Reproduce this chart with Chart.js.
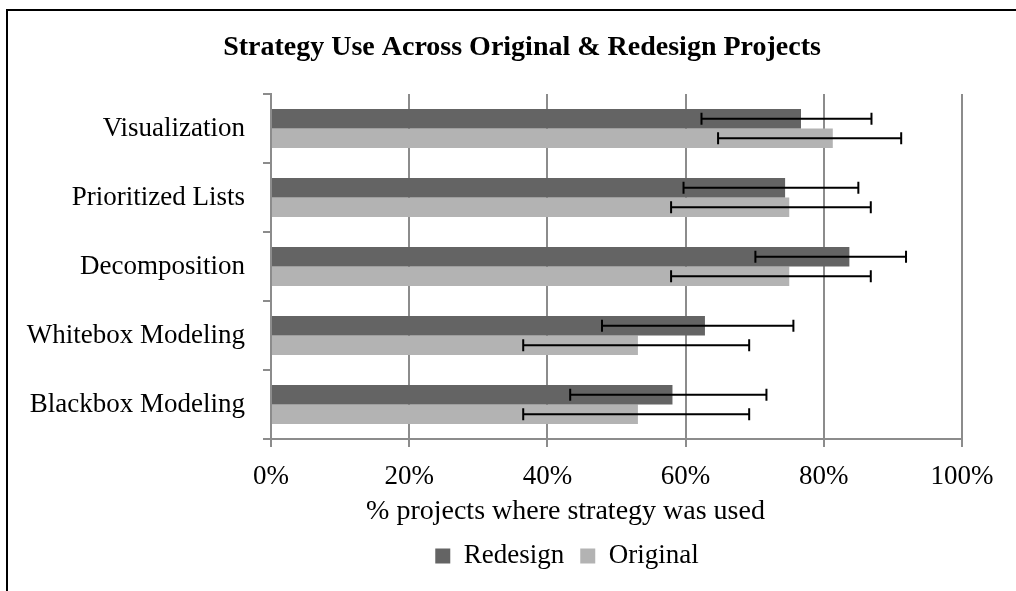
<!DOCTYPE html>
<html>
<head>
<meta charset="utf-8">
<script src="https://cdn.jsdelivr.net/npm/chart.js@4.4.1/dist/chart.umd.min.js"></script>
<style>
  html, body { margin: 0; padding: 0; background: #fff; overflow: hidden; }
  #wrap { position: absolute; left: 0; top: 0; width: 1016px; height: 591px; }
  #frame { position: absolute; left: 6px; top: 9px; width: 1100px; height: 700px;
           border-left: 2px solid #000; border-top: 2px solid #000; pointer-events: none; }
</style>
</head>
<body>
<div id="wrap"><canvas id="chart" width="1016" height="591"></canvas></div>
<div id="frame"></div>
<script>
// strategies, top to bottom
var strategies = ['Visualization', 'Prioritized Lists', 'Decomposition', 'Whitebox Modeling', 'Blackbox Modeling'];

// % of projects
var redesign      = [76.7, 74.4, 83.7, 62.8, 58.1];
var redesignLow   = [62.3, 59.7, 70.1, 47.9, 43.3];
var redesignHigh  = [86.9, 85.0, 91.9, 75.6, 71.7];

var original      = [81.3, 75.0, 75.0, 53.1, 53.1];
var originalLow   = [64.7, 57.9, 57.9, 36.5, 36.5];
var originalHigh  = [91.2, 86.8, 86.8, 69.2, 69.2];

var xTicks = [0, 20, 40, 60, 80, 100];
var xTitle = '% projects where strategy was used';

var serif = "'Liberation Serif', 'DejaVu Serif', serif";

// whiskers drawn on top of the bars
var errorBars = {
  id: 'errorBars',
  afterDatasetsDraw: function (chart) {
    var ctx = chart.ctx;
    var xs = chart.scales.x;
    ctx.save();
    ctx.strokeStyle = '#000';
    ctx.lineWidth = 2;
    chart.data.datasets.forEach(function (ds, i) {
      var meta = chart.getDatasetMeta(i);
      meta.data.forEach(function (bar, j) {
        var y = bar.y;
        var a = xs.getPixelForValue(ds.errLow[j]);
        var b = xs.getPixelForValue(ds.errHigh[j]);
        ctx.beginPath();
        ctx.moveTo(a, y); ctx.lineTo(b, y);
        ctx.moveTo(a, y - 6); ctx.lineTo(a, y + 6);
        ctx.moveTo(b, y - 6); ctx.lineTo(b, y + 6);
        ctx.stroke();
      });
    });
    ctx.restore();
  }
};

// excel puts title, axis title and legend off the plot centre
var offsets = {
  id: 'offsets',
  afterLayout: function (chart) {
    chart.titleBlock.left += 41;
    chart.titleBlock.right += 41;
    chart.legend.left += 86;
    chart.legend.right += 86;
  },
  afterDraw: function (chart) {
    var ctx = chart.ctx;
    var area = chart.chartArea;
    ctx.save();
    ctx.font = '28px ' + serif;
    ctx.fillStyle = '#000';
    ctx.textAlign = 'center';
    ctx.textBaseline = 'middle';
    ctx.fillText(xTitle, (area.left + area.right) / 2 - 51, area.bottom + 73);
    ctx.restore();
  }
};

new Chart(document.getElementById('chart'), {
  type: 'bar',
  data: {
    labels: strategies,
    datasets: [
      { label: 'Redesign', data: redesign, errLow: redesignLow, errHigh: redesignHigh,
        backgroundColor: '#646464', borderWidth: 0 },
      { label: 'Original', data: original, errLow: originalLow, errHigh: originalHigh,
        backgroundColor: '#b3b3b3', borderWidth: 0 }
    ]
  },
  options: {
    indexAxis: 'y',
    responsive: false,
    animation: false,
    layout: { padding: { left: 0, right: 54, top: 0, bottom: 11.5 } },
    datasets: { bar: { categoryPercentage: 0.565, barPercentage: 1.0 } },
    scales: {
      x: {
        min: 0, max: 100,
        afterBuildTicks: function (s) { s.ticks = xTicks.map(function (v) { return { value: v }; }); },
        afterFit: function (s) { s.height = 87.5; },
        ticks: { callback: function (v) { return v + '%'; }, font: { family: serif, size: 27 }, color: '#000', padding: 14 },
        grid: { color: '#8c8c8c', lineWidth: 2, tickLength: 8 },
        border: { color: '#8c8c8c', width: 2 }
      },
      y: {
        afterFit: function (s) { s.width = 271; },
        ticks: { font: { family: serif, size: 27 }, color: '#000', padding: 18 },
        grid: { drawOnChartArea: false, color: '#8c8c8c', lineWidth: 2, tickLength: 8 },
        border: { color: '#8c8c8c', width: 2 }
      }
    },
    plugins: {
      title: { display: true, text: 'Strategy Use Across Original & Redesign Projects', color: '#000',
               font: { family: serif, size: 28, weight: 'bold' }, padding: { top: 31, bottom: 29.4 } },
      legend: { position: 'bottom',
                labels: { boxWidth: 15, boxHeight: 15, padding: 16, color: '#000',
                          font: { family: serif, size: 27 } } },
      tooltip: { enabled: false }
    }
  },
  plugins: [errorBars, offsets]
});
</script>
</body>
</html>
